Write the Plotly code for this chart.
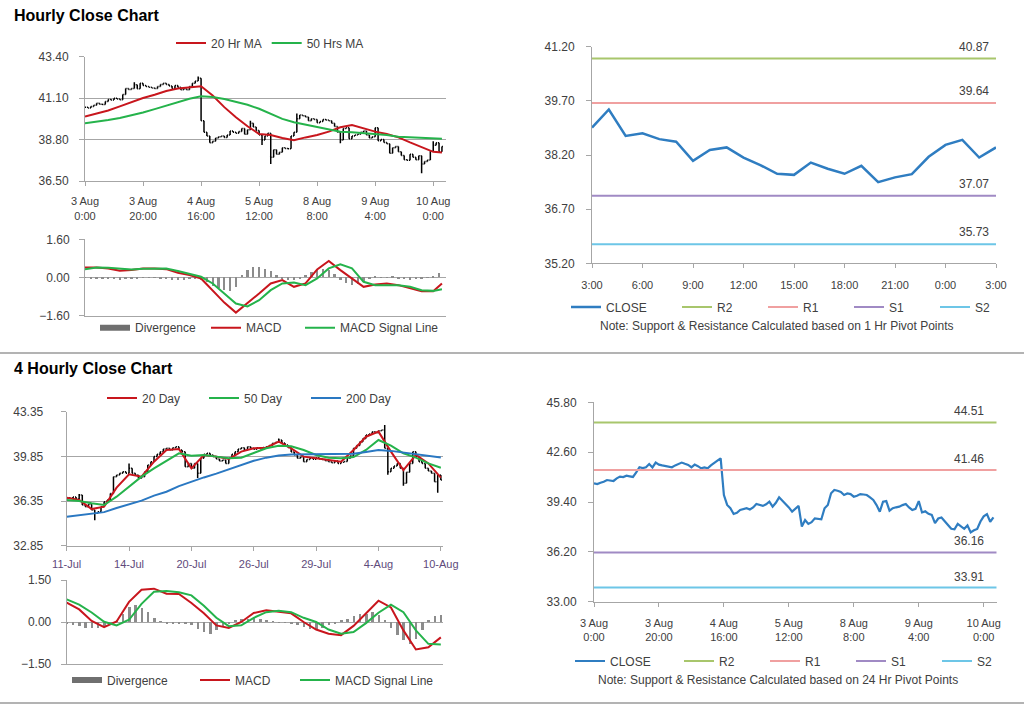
import plotly.graph_objects as go

# ---------------- Hourly data: 3 Aug 0:00 -> 10 Aug 3:00 (one bar per hour) ----------------
hourly_close = [
    40.60, 40.55, 40.64, 40.70, 40.81, 40.76, 40.75, 40.92, 41.03, 41.00,
    41.09, 41.05, 41.01, 41.30, 41.63, 41.58, 41.63, 41.84, 41.62, 41.93,
    41.80, 41.75, 41.71, 41.66, 41.63, 41.75, 41.85, 41.93, 41.85, 41.78,
    41.63, 41.80, 41.70, 41.56, 41.62, 41.56, 41.75, 41.93, 42.05, 42.20,
    39.85, 39.21, 39.00, 38.63, 38.70, 38.89, 38.95, 39.00, 38.92, 39.05,
    39.27, 39.20, 39.15, 39.25, 39.42, 39.10, 39.35, 39.70, 39.50, 39.31,
    39.05, 38.78, 39.00, 39.15, 37.82, 38.24, 37.99, 38.10, 38.35, 38.30,
    38.29, 39.00, 39.21, 39.96, 40.17, 40.12, 40.05, 39.85, 39.95, 39.91,
    39.74, 39.80, 39.91, 39.88, 39.85, 39.70, 39.53, 39.20, 38.78, 39.42,
    39.46, 38.84, 39.00, 39.06, 39.10, 39.20, 39.27, 39.05, 38.89,
    38.96, 39.46, 38.73, 38.80, 38.64, 38.57, 38.04, 38.34, 38.41, 38.13,
    37.92, 37.68, 37.65, 37.99, 37.82, 37.68, 37.90, 37.45, 37.58, 37.67,
    38.15, 38.48, 38.62, 38.13, 38.41,
]
hourly_wick_high = {17: 41.98, 39: 42.30, 57: 39.85, 73: 40.25, 120: 38.70}
hourly_wick_low = {61: 38.50, 64: 37.45, 88: 38.60, 116: 36.93}
hourly_tick_labels = ["3 Aug<br>0:00", "3 Aug<br>20:00", "4 Aug<br>16:00", "5 Aug<br>12:00",
                      "8 Aug<br>8:00", "9 Aug<br>4:00", "10 Aug<br>0:00"]
hourly_bars_per_tick = 20

# moving averages / MACD read every 4 bars (plus last bar)
hourly_ma20 = [40.08, 40.23, 40.41, 40.64, 40.88, 41.11, 41.29, 41.50, 41.63, 41.68, 41.76,
               41.25, 40.60, 40.04, 39.54, 39.11, 39.05, 38.89, 38.77, 38.92, 39.05,
               39.24, 39.48, 39.61, 39.43, 39.24, 39.11, 38.92, 38.64, 38.36, 38.12, 38.08]
hourly_ma50 = [39.71, 39.78, 39.89, 40.00, 40.13, 40.30, 40.49, 40.69, 40.88, 41.07, 41.20,
               41.16, 41.05, 40.88, 40.73, 40.51, 40.23, 39.95, 39.76, 39.63, 39.48,
               39.33, 39.24, 39.20, 39.15, 39.11, 39.05, 38.96, 38.92, 38.89, 38.87, 38.85]
hourly_macd = [0.42, 0.42, 0.38, 0.28, 0.31, 0.38, 0.38, 0.35, 0.20, 0.10, -0.04,
               -0.53, -1.05, -1.47, -1.09, -0.67, -0.25, -0.11, -0.39, -0.25, 0.34,
               0.69, 0.31, -0.04, -0.39, -0.29, -0.25, -0.32, -0.46, -0.58, -0.58, -0.25]
hourly_signal = [0.35, 0.42, 0.41, 0.37, 0.34, 0.37, 0.38, 0.38, 0.27, 0.15, 0.03,
                 -0.25, -0.67, -1.09, -1.21, -0.95, -0.53, -0.25, -0.21, -0.32, -0.04,
                 0.38, 0.55, 0.38, -0.18, -0.32, -0.32, -0.32, -0.39, -0.53, -0.56, -0.49]
# divergence read every 2 bars
hourly_divergence = [-0.03, -0.05, -0.05, -0.06, -0.06, -0.08, -0.10, -0.08, -0.06, -0.04,
                     -0.02, -0.03, -0.02, -0.05, -0.08, -0.12, -0.12, -0.10, -0.08, -0.06,
                     -0.10, -0.22, -0.35, -0.45, -0.52, -0.58, -0.40, 0.10, 0.30, 0.44,
                     0.42, 0.36, 0.25, 0.08, -0.06, -0.12, -0.10, -0.04, 0.10, 0.22,
                     0.30, 0.36, 0.32, 0.15, -0.12, -0.25, -0.33, -0.30, -0.18, -0.05,
                     0.02, -0.02, -0.03, 0.03, -0.05, -0.08, -0.10, -0.08, -0.05, -0.02,
                     0.05, 0.18]

# 1 Hr pivot chart (last 25 hours)
pivot_1h = {"R2": 40.87, "R1": 39.64, "S1": 37.07, "S2": 35.73}
last_day_hours = 25
hour_tick_labels = ["3:00", "6:00", "9:00", "12:00", "15:00", "18:00", "21:00", "0:00", "3:00"]

# 24 Hr pivot chart
pivot_24h = {"R2": 44.51, "R1": 41.46, "S1": 36.16, "S2": 33.91}

# ---------------- 4-Hourly data: 11-Jul -> 10-Aug ----------------
fourh_close = [
    36.61, 36.56, 36.66, 36.51, 36.82, 36.04, 35.91, 36.09, 35.65, 35.39,
    35.52, 35.91, 36.30, 36.43, 36.95, 38.26, 38.39, 38.52, 38.65, 38.52,
    38.91, 38.52, 38.39, 38.13, 38.26, 38.65, 39.17, 39.43, 39.83, 40.01,
    40.22, 40.43, 40.48, 40.35, 40.53, 40.61, 40.35, 40.22, 39.04, 39.30,
    38.91, 39.30, 38.52, 39.70, 40.01, 40.09, 39.96, 39.83, 39.64, 39.49,
    39.57, 39.30, 39.70, 40.01, 40.22, 40.43, 40.53, 40.35, 40.61, 40.48,
    40.40, 40.52, 40.45, 40.55, 40.61, 40.70, 40.87, 40.95, 41.13, 40.90,
    40.74, 40.55, 40.20, 39.95, 39.70, 39.80, 39.43, 39.60, 39.70, 39.62,
    39.75, 39.65, 39.60, 39.50, 39.42, 39.35, 39.48, 39.30, 39.38, 39.45,
    39.70, 39.90, 40.48, 40.70, 41.00, 41.25, 41.52, 41.60, 41.78, 41.70,
    41.85, 41.92, 40.48, 38.65, 38.91, 39.10, 39.30, 38.91, 37.74, 38.60,
    39.30, 40.22, 39.83, 39.43, 39.30, 38.91, 38.70, 38.52, 37.87, 38.39,
    38.00,
]
fourh_wick_high = {4: 36.90, 20: 39.30, 68: 41.25, 102: 42.30}
fourh_wick_low = {9: 34.85, 42: 38.15, 103: 38.40, 108: 37.55, 119: 37.00}
fourh_tick_labels = ["11-Jul", "14-Jul", "20-Jul", "26-Jul", "29-Jul", "4-Aug", "10-Aug"]
fourh_bars_per_tick = 20

fourh_ma20 = [36.61, 36.43, 35.72, 35.91, 37.40, 38.44, 38.26, 39.43, 40.35, 40.43, 38.91,
              39.96, 39.83, 39.64, 40.22, 40.48, 40.53, 41.00, 40.48, 39.83, 39.70,
              39.57, 39.43, 40.35, 41.39, 41.79, 40.22, 38.78, 39.96, 39.30, 38.18]
fourh_ma50 = [36.43, 36.35, 36.17, 36.04, 36.69, 37.48, 38.26, 38.91, 39.49, 40.09, 39.90,
              39.96, 39.83, 39.70, 39.75, 40.14, 40.48, 40.69, 40.64, 40.35, 39.96,
              39.75, 39.70, 39.80, 40.35, 41.13, 40.69, 40.09, 39.75, 39.30, 38.96]
fourh_ma200 = [35.12, 35.22, 35.36, 35.48, 35.80, 36.08, 36.38, 36.77, 37.08, 37.52, 37.88,
               38.20, 38.50, 38.82, 39.15, 39.50, 39.75, 39.92, 40.00, 40.01, 39.98,
               40.00, 40.00, 40.05, 40.20, 40.34, 40.28, 40.15, 40.05, 39.90, 39.77]
fourh_macd = [0.69, 0.45, 0.04, -0.18, 0.02, 0.72, 1.15, 1.19, 1.01, 1.00, 0.68,
              0.31, -0.12, -0.21, 0.00, 0.32, 0.42, 0.37, 0.31, 0.00, -0.27,
              -0.42, -0.47, -0.14, 0.30, 0.76, 0.52, -0.30, -0.98, -0.90, -0.55]
fourh_signal = [0.81, 0.62, 0.34, 0.01, -0.12, 0.08, 0.65, 1.08, 1.11, 1.06, 0.95,
                0.58, 0.15, -0.15, -0.12, 0.15, 0.35, 0.40, 0.35, 0.15, 0.00,
                -0.27, -0.42, -0.36, -0.04, 0.33, 0.62, 0.35, -0.30, -0.78, -0.80]
fourh_divergence = [-0.08, -0.12, -0.15, -0.20, -0.22, -0.22, -0.18, -0.10, 0.05, 0.30,
                    0.55, 0.62, 0.50, 0.35, 0.15, 0.02, -0.05, -0.06, -0.04, -0.05,
                    -0.12, -0.25, -0.35, -0.42, -0.30, -0.15, -0.05, 0.05, 0.10, 0.12,
                    0.15, 0.10, 0.06, 0.02, -0.02, -0.03, -0.05, -0.10, -0.18, -0.25,
                    -0.28, -0.22, -0.12, -0.04, 0.05, 0.12, 0.20, 0.28, 0.30, 0.35,
                    0.25, 0.05, -0.20, -0.45, -0.65, -0.80, -0.62, -0.30, 0.08, 0.22,
                    0.25]

# axis tick values
hourly_price_ticks = [36.50, 38.80, 41.10, 43.40]
hourly_macd_ticks = [-1.60, 0.00, 1.60]
pivot1h_ticks = [35.20, 36.70, 38.20, 39.70, 41.20]
fourh_price_ticks = [32.85, 36.35, 39.85, 43.35]
fourh_macd_ticks = [-1.50, 0.00, 1.50]
pivot24h_ticks = [33.00, 36.20, 39.40, 42.60, 45.80]

# ---------------- styling ----------------
W, H = 1024, 706
FONT = "Liberation Sans, Arial, sans-serif"
TXT = "#404040"
AXC = "#a6a6a6"
RED = "#c8161d"
GREEN = "#25b34b"
BLUE = "#2a78c2"
CLOSE_C = "#2f7dc1"
DIV_C = "#8c8c8c"
DIV_LEG = "#6f6f6f"
PIV_C = {"R2": "#a8c66c", "R1": "#f0a0a0", "S1": "#a08ac4", "S2": "#6dc6e7"}


def dx(a, b):
    return [a / W, b / W]


def dy(top, bottom):
    return [1 - bottom / H, 1 - top / H]


def ohlc_from(close, wick_hi, wick_lo):
    opens = [close[0]] + close[:-1]
    hi = [max(o, c, wick_hi.get(i, c)) for i, (o, c) in enumerate(zip(opens, close))]
    lo = [min(o, c, wick_lo.get(i, c)) for i, (o, c) in enumerate(zip(opens, close))]
    return opens, hi, lo


fig = go.Figure()

# ---- Hourly price (x / y) ----
h_x = list(range(len(hourly_close)))
h_open, h_high, h_low = ohlc_from(hourly_close, hourly_wick_high, hourly_wick_low)
fig.add_trace(go.Ohlc(x=h_x, open=h_open, high=h_high, low=h_low, close=hourly_close,
                      increasing=dict(line=dict(color="black", width=1.5)),
                      decreasing=dict(line=dict(color="black", width=1.5)),
                      tickwidth=0.35, showlegend=False, hoverinfo="skip",
                      xaxis="x", yaxis="y"))
h_ma_x = list(range(0, len(hourly_close) - 3, 4)) + [len(hourly_close) - 1]
fig.add_trace(go.Scatter(x=h_ma_x, y=hourly_ma20, mode="lines", name="20 Hr MA",
                         line=dict(color=RED, width=2), xaxis="x", yaxis="y", legend="legend"))
fig.add_trace(go.Scatter(x=h_ma_x, y=hourly_ma50, mode="lines", name="50 Hrs MA",
                         line=dict(color=GREEN, width=2), xaxis="x", yaxis="y", legend="legend"))


def macd_block(div, div_x, mx, macd, sig, xa, ya, leg_a, leg_b):
    fig.add_trace(go.Bar(x=div_x, y=div, width=0.8, name="Divergence", showlegend=False,
                         marker=dict(color=DIV_C, line=dict(width=0)), xaxis=xa, yaxis=ya))
    # legend key for the divergence bars (a wide grey key, like the original)
    fig.add_trace(go.Scatter(x=[None], y=[None], mode="lines", name="Divergence",
                             line=dict(color=DIV_LEG, width=6), xaxis=xa, yaxis=ya, legend=leg_a))
    fig.add_trace(go.Scatter(x=mx, y=macd, mode="lines", name="MACD",
                             line=dict(color=RED, width=2), xaxis=xa, yaxis=ya, legend=leg_a))
    fig.add_trace(go.Scatter(x=mx, y=sig, mode="lines", name="MACD Signal Line",
                             line=dict(color=GREEN, width=2), xaxis=xa, yaxis=ya, legend=leg_b))


# ---- Hourly MACD (x2 / y2) ----
h_div_x = list(range(0, 2 * len(hourly_divergence), 2))
macd_block(hourly_divergence, h_div_x, h_ma_x, hourly_macd, hourly_signal, "x2", "y2",
           "legend2", "legend7")

# ---- 1 Hr pivot chart (x3 / y3) ----
day_close = hourly_close[-last_day_hours:]
d_x = list(range(len(day_close)))
fig.add_trace(go.Scatter(x=d_x, y=day_close, mode="lines", name="CLOSE",
                         line=dict(color=CLOSE_C, width=2.5), xaxis="x3", yaxis="y3", legend="legend3"))
for k, v in pivot_1h.items():
    fig.add_trace(go.Scatter(x=[d_x[0], d_x[-1]], y=[v, v], mode="lines", name=k,
                             line=dict(color=PIV_C[k], width=2), xaxis="x3", yaxis="y3",
                             legend="legend9"))

# ---- 4 Hourly price (x4 / y4) ----
f_x = list(range(len(fourh_close)))
f_open, f_high, f_low = ohlc_from(fourh_close, fourh_wick_high, fourh_wick_low)
fig.add_trace(go.Ohlc(x=f_x, open=f_open, high=f_high, low=f_low, close=fourh_close,
                      increasing=dict(line=dict(color="black", width=1.5)),
                      decreasing=dict(line=dict(color="black", width=1.5)),
                      tickwidth=0.35, showlegend=False, hoverinfo="skip",
                      xaxis="x4", yaxis="y4"))
f_ma_x = list(range(0, len(fourh_close), 4))
fig.add_trace(go.Scatter(x=f_ma_x, y=fourh_ma20, mode="lines", name="20 Day",
                         line=dict(color=RED, width=2), xaxis="x4", yaxis="y4", legend="legend4"))
fig.add_trace(go.Scatter(x=f_ma_x, y=fourh_ma50, mode="lines", name="50 Day",
                         line=dict(color=GREEN, width=2), xaxis="x4", yaxis="y4", legend="legend4"))
fig.add_trace(go.Scatter(x=f_ma_x, y=fourh_ma200, mode="lines", name="200 Day",
                         line=dict(color=BLUE, width=2), xaxis="x4", yaxis="y4", legend="legend4"))

# ---- 4 Hourly MACD (x5 / y5) ----
f_div_x = list(range(0, 2 * len(fourh_divergence), 2))
macd_block(fourh_divergence, f_div_x, f_ma_x, fourh_macd, fourh_signal, "x5", "y5",
           "legend5", "legend8")

# ---- 24 Hr pivot chart (x6 / y6) ----
fig.add_trace(go.Scatter(x=h_x, y=hourly_close, mode="lines", name="CLOSE",
                         line=dict(color=CLOSE_C, width=2.2), xaxis="x6", yaxis="y6", legend="legend6"))
BR_RANGE = [0, 124]
for k, v in pivot_24h.items():
    fig.add_trace(go.Scatter(x=BR_RANGE, y=[v, v], mode="lines", name=k,
                             line=dict(color=PIV_C[k], width=2), xaxis="x6", yaxis="y6",
                             legend="legend10"))


# ---------------- axes ----------------
def xax(domain, anchor, rng, tickvals=None, ticktext=None, labels=True, color=TXT, standoff=8):
    d = dict(domain=domain, anchor=anchor, range=rng, showline=True, linecolor=AXC, linewidth=1,
             showgrid=False, zeroline=False, fixedrange=True, automargin=False,
             tickfont=dict(family=FONT, size=11, color=color))
    if labels:
        d.update(tickmode="array", tickvals=tickvals, ticktext=ticktext, ticks="outside",
                 ticklen=4, tickcolor=AXC, ticklabelstandoff=standoff)
    else:
        d.update(showticklabels=False, ticks="")
    return d


def yax(domain, anchor, ticks, grid, standoff):
    return dict(domain=domain, anchor=anchor, range=[ticks[0], ticks[-1]], showline=True,
                linecolor=AXC, linewidth=1, showgrid=grid, gridcolor=AXC, gridwidth=1,
                zeroline=False, fixedrange=True, automargin=False, tickmode="array", tickvals=ticks,
                tickformat=".2f", ticks="outside", ticklen=5, tickcolor=AXC,
                ticklabelstandoff=standoff, tickfont=dict(family=FONT, size=12, color=TXT))


h_tickvals = [i * hourly_bars_per_tick for i in range(len(hourly_tick_labels))]
f_tickvals = [i * fourh_bars_per_tick for i in range(len(fourh_tick_labels))]
d_tickvals = [i * 3 for i in range(len(hour_tick_labels))]

TL_X = dx(85, 446)
BL_X = dx(66.7, 442.7)
H_RANGE = [0, 124.4]
F_RANGE = [0, 120.6]

xaxis1 = xax(TL_X, "y", H_RANGE, h_tickvals, hourly_tick_labels, standoff=6)
xaxis1["rangeslider"] = dict(visible=False)
xaxis4 = xax(BL_X, "y4", F_RANGE, f_tickvals, fourh_tick_labels, color="#604a7b", standoff=4)
xaxis4["rangeslider"] = dict(visible=False)

fig.update_layout(
    xaxis=xaxis1,
    yaxis=yax(dy(56.7, 181), "x", hourly_price_ticks, True, 8),
    xaxis2=xax(TL_X, "y2", H_RANGE, labels=False),
    yaxis2=yax(dy(239.3, 315.7), "x2", hourly_macd_ticks, True, 7),
    xaxis3=xax(dx(592, 996), "y3", [0, last_day_hours - 1], d_tickvals, hour_tick_labels, standoff=7),
    yaxis3=yax(dy(46.7, 263.3), "x3", pivot1h_ticks, False, 9),
    xaxis4=xaxis4,
    yaxis4=yax(dy(411.7, 545.7), "x4", fourh_price_ticks, True, 15),
    xaxis5=xax(BL_X, "y5", F_RANGE, labels=False),
    yaxis5=yax(dy(580, 664), "x5", fourh_macd_ticks, True, 7),
    xaxis6=xax(dx(594, 996.7), "y6", BR_RANGE, h_tickvals, hourly_tick_labels, standoff=7),
    yaxis6=yax(dy(402.3, 601.7), "x6", pivot24h_ticks, False, 9),
)


# ---------------- legends ----------------
def leg(xpx, ypx, ew=None):
    d = dict(orientation="h", x=xpx / W, y=1 - ypx / H, xanchor="left", yanchor="middle",
             font=dict(family=FONT, size=12, color=TXT), bgcolor="rgba(0,0,0,0)",
             borderwidth=0, itemwidth=30, itemclick=False, itemdoubleclick=False)
    if ew:
        d["entrywidth"] = ew
        d["entrywidthmode"] = "pixels"
    return d


fig.update_layout(
    legend=leg(171, 43),
    legend2=leg(95, 327.7, 66),
    legend7=leg(300, 327.7),
    legend3=leg(566, 307),
    legend9=leg(677, 307, 41),
    legend4=leg(102, 398, 57),
    legend5=leg(67, 680, 83),
    legend8=leg(295, 680),
    legend6=leg(570, 661),
    legend10=leg(679, 661, 41),
)

# ---------------- annotations ----------------
ann = [
    dict(text="<b>Hourly Close Chart</b>", x=12 / W, y=1 - 16 / H, xref="paper", yref="paper",
         xanchor="left", yanchor="middle", showarrow=False, font=dict(family=FONT, size=16, color="black")),
    dict(text="<b>4 Hourly Close Chart</b>", x=12 / W, y=1 - 369 / H, xref="paper", yref="paper",
         xanchor="left", yanchor="middle", showarrow=False, font=dict(family=FONT, size=16, color="black")),
    dict(text="Note: Support & Resistance Calculated based on 1 Hr Pivot Points", x=777 / W,
         y=1 - 325.7 / H, xref="paper", yref="paper", xanchor="center", yanchor="middle",
         showarrow=False, font=dict(family=FONT, size=12, color=TXT)),
    dict(text="Note: Support & Resistance Calculated based on 24 Hr Pivot Points", x=778 / W,
         y=1 - 680 / H, xref="paper", yref="paper", xanchor="center", yanchor="middle",
         showarrow=False, font=dict(family=FONT, size=12, color=TXT)),
]
for k, v in pivot_1h.items():
    ann.append(dict(text=f"{v:.2f}", x=23.7, y=v, xref="x3", yref="y3", yshift=12,
                    xanchor="right", showarrow=False, font=dict(family=FONT, size=12, color=TXT)))
for k, v in pivot_24h.items():
    ann.append(dict(text=f"{v:.2f}", x=115.5, y=v, xref="x6", yref="y6", yshift=11,
                    showarrow=False, font=dict(family=FONT, size=12, color=TXT)))

shapes = [
    dict(type="line", xref="paper", yref="paper", x0=0, x1=1, y0=1 - 353 / H, y1=1 - 353 / H,
         line=dict(color="#9a9a9a", width=1.5)),
    dict(type="line", xref="paper", yref="paper", x0=0, x1=1, y0=1 - 703 / H, y1=1 - 703 / H,
         line=dict(color="#9a9a9a", width=1.5)),
]

fig.update_layout(
    width=W, height=H, margin=dict(l=0, r=0, t=0, b=0, pad=0, autoexpand=False),
    paper_bgcolor="white", plot_bgcolor="white",
    font=dict(family=FONT, size=12, color=TXT),
    hovermode=False, annotations=ann, shapes=shapes, bargap=0,
)

fig.write_html("out.html", config={"displayModeBar": False, "staticPlot": False},
               post_script="document.body.style.margin='0';document.body.style.padding='0';")
